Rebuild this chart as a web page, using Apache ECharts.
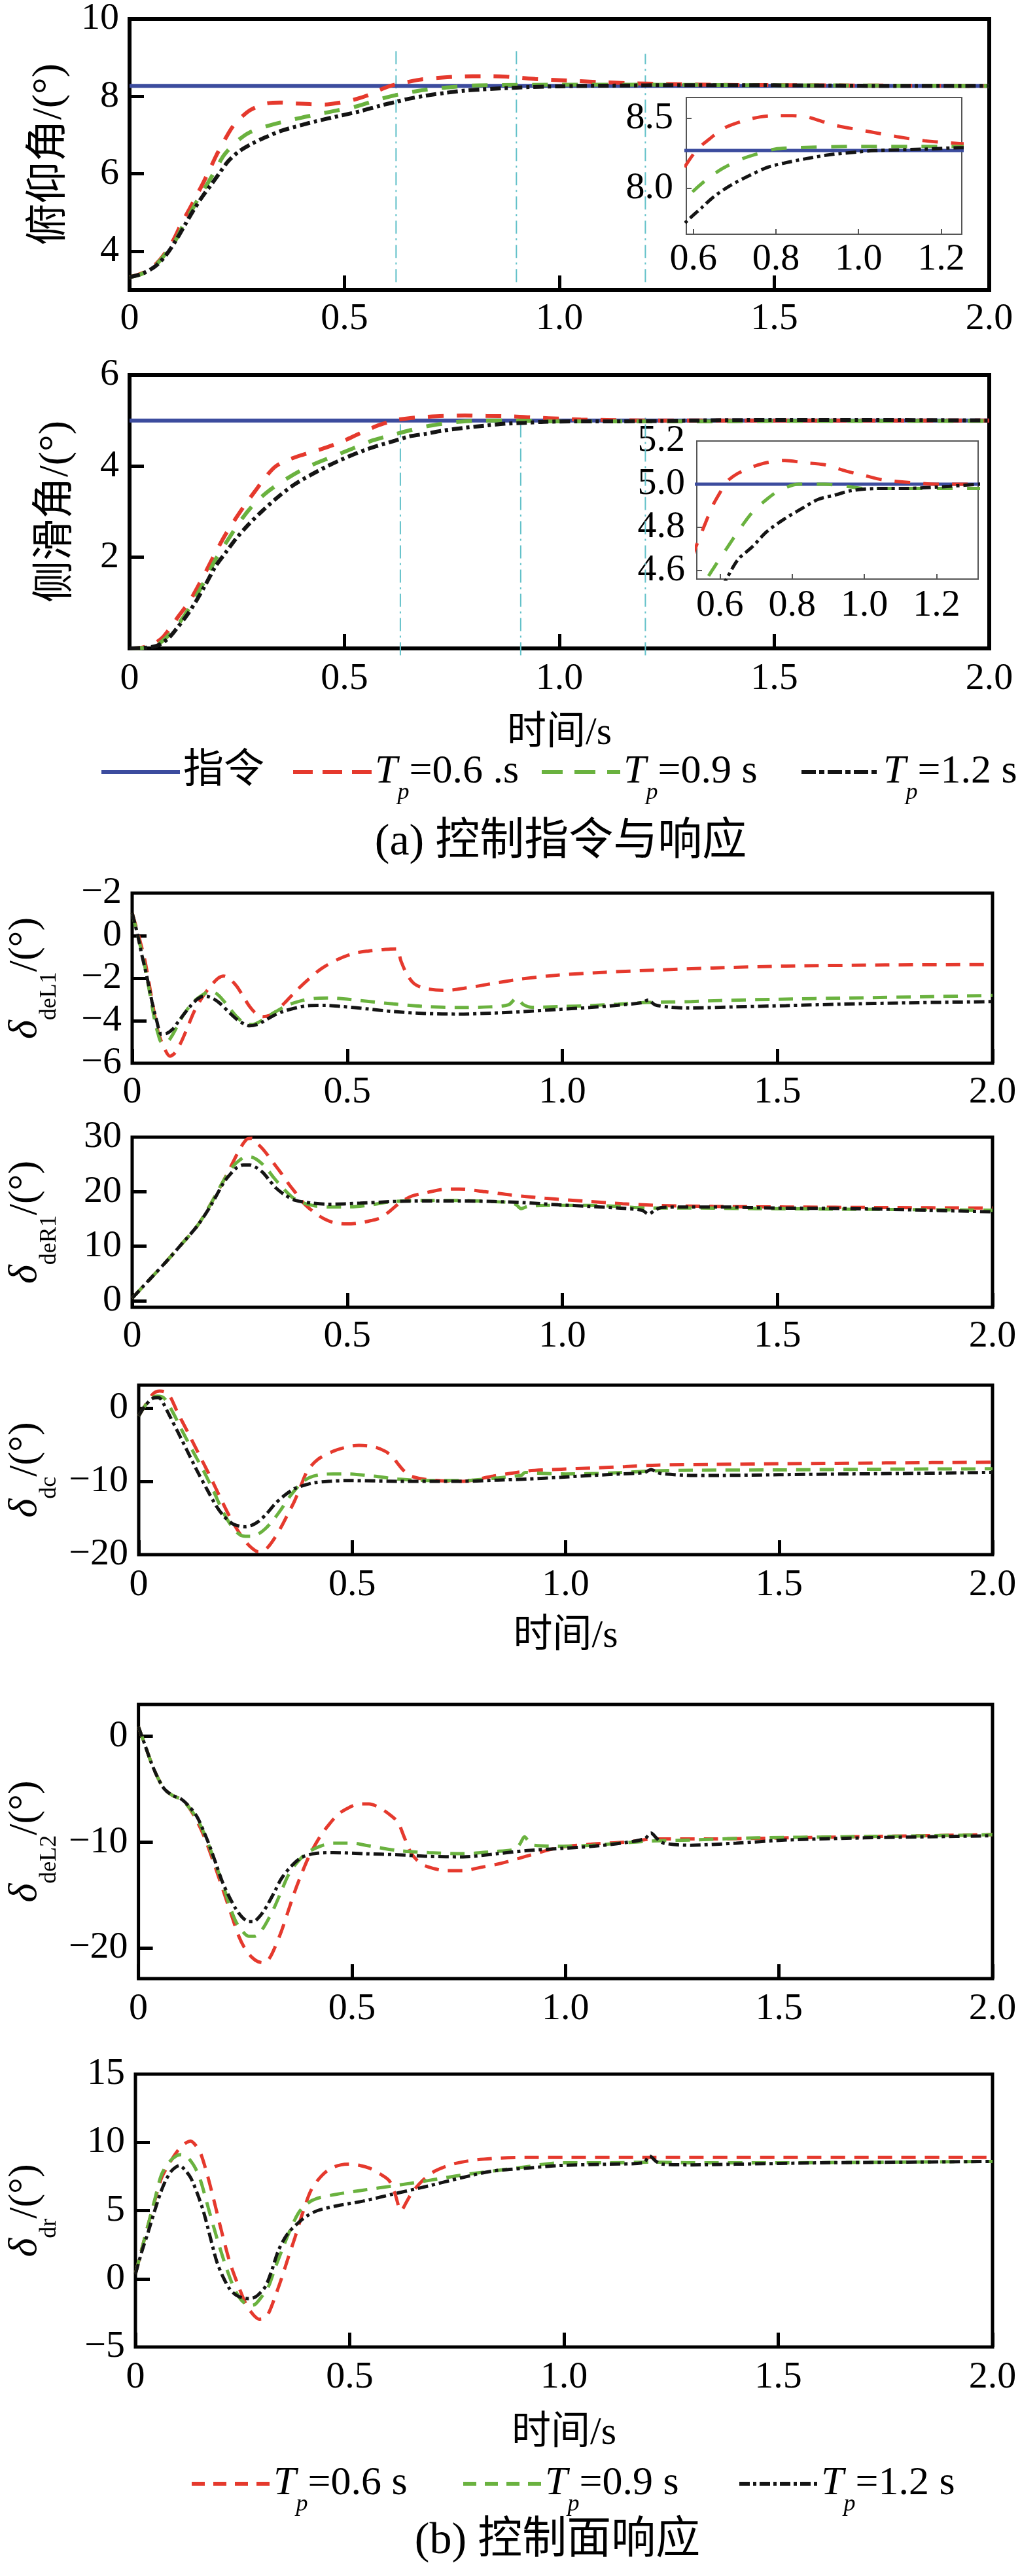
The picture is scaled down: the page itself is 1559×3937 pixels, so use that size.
<!DOCTYPE html>
<html><head><meta charset="utf-8">
<script src="https://cdn.jsdelivr.net/npm/echarts@6/dist/echarts.min.js"></script>
<style>html,body{margin:0;padding:0;background:#fff}#c{width:1559px;height:3937px}</style>
</head><body><div id="c"></div>
<script>
// ---------------- DATA ----------------
const timeTicks = [0, 0.5, 1.0, 1.5, 2.0];

// (a) pitch angle
const pitchCmd = [[0, 8.27], [2, 8.27]];
const pitchTp06 = [[0,3.33],[0.03,3.43],[0.06,3.65],[0.085,3.98],[0.104,4.33],[0.12,4.7],[0.138,5.06],[0.155,5.42],[0.172,5.78],[0.188,6.15],[0.203,6.5],[0.22,6.85],[0.237,7.17],[0.25,7.35],[0.264,7.5],[0.28,7.64],[0.3,7.75],[0.32,7.82],[0.35,7.84],[0.38,7.82],[0.42,7.8],[0.456,7.79],[0.49,7.84],[0.524,7.92],[0.555,8.03],[0.583,8.17],[0.61,8.28],[0.638,8.35],[0.674,8.43],[0.718,8.48],[0.76,8.51],[0.797,8.52],[0.84,8.52],[0.876,8.51],[0.91,8.48],[0.944,8.45],[1.018,8.41],[1.092,8.37],[1.16,8.34],[1.245,8.32],[1.35,8.3],[1.5,8.29],[1.7,8.28],[2.0,8.27]];
const pitchTp09 = [[0,3.33],[0.03,3.42],[0.06,3.63],[0.085,3.95],[0.108,4.3],[0.125,4.68],[0.145,5.06],[0.162,5.4],[0.18,5.72],[0.2,6.1],[0.217,6.44],[0.23,6.62],[0.244,6.78],[0.26,6.93],[0.278,7.06],[0.31,7.2],[0.353,7.33],[0.4,7.45],[0.435,7.53],[0.48,7.63],[0.524,7.73],[0.583,7.93],[0.627,8.05],[0.67,8.14],[0.718,8.21],[0.76,8.25],[0.797,8.28],[0.85,8.29],[1.0,8.3],[1.2,8.3],[1.4,8.29],[1.7,8.28],[2.0,8.27]];
const pitchTp12 = [[0,3.33],[0.03,3.42],[0.06,3.61],[0.085,3.9],[0.108,4.28],[0.13,4.7],[0.149,5.06],[0.17,5.42],[0.19,5.72],[0.21,6.03],[0.23,6.33],[0.255,6.58],[0.285,6.78],[0.32,6.96],[0.353,7.11],[0.4,7.26],[0.435,7.36],[0.49,7.5],[0.538,7.62],[0.583,7.76],[0.62,7.86],[0.65,7.94],[0.69,8.02],[0.735,8.09],[0.78,8.15],[0.82,8.18],[0.87,8.21],[0.93,8.24],[1.0,8.26],[1.04,8.27],[1.16,8.28],[1.245,8.29],[1.4,8.29],[1.6,8.28],[1.8,8.27],[2.0,8.27]];
const pitchGuides = [[0.62, 3.2, 9.25], [0.9, 3.2, 9.22], [1.2, 3.2, 9.1]];
const pitchLabels = [4, 6, 8, 10];
const pitchTicks = [4, 6, 8];
const pitchInsetX = [0.6, 0.8, 1.0, 1.2];
const pitchInsetY = [8.0, 8.5];

// (a) sideslip angle
const betaCmd = [[0, 5.0], [2, 5.0]];
const betaTp06 = [[0,0],[0.03,0.02],[0.06,0.12],[0.078,0.25],[0.094,0.44],[0.115,0.72],[0.14,1.04],[0.17,1.55],[0.2,2.1],[0.222,2.48],[0.247,2.85],[0.27,3.17],[0.292,3.45],[0.315,3.74],[0.338,3.98],[0.365,4.12],[0.4,4.24],[0.445,4.37],[0.49,4.52],[0.536,4.72],[0.56,4.82],[0.58,4.9],[0.6,4.96],[0.618,5.01],[0.65,5.05],[0.69,5.08],[0.73,5.1],[0.78,5.11],[0.83,5.1],[0.89,5.09],[0.95,5.06],[1.0,5.04],[1.05,5.02],[1.11,5.01],[1.2,5.0],[1.4,5.0],[1.7,5.0],[2.0,5.0]];
const betaTp09 = [[0,0],[0.03,0.01],[0.064,0.08],[0.09,0.28],[0.115,0.55],[0.14,0.9],[0.17,1.4],[0.2,1.95],[0.23,2.4],[0.262,2.85],[0.29,3.17],[0.323,3.45],[0.365,3.72],[0.414,3.98],[0.47,4.2],[0.536,4.45],[0.564,4.56],[0.59,4.63],[0.618,4.7],[0.65,4.78],[0.69,4.87],[0.73,4.93],[0.764,4.97],[0.818,5.0],[0.89,5.0],[0.95,4.99],[1.0,4.98],[1.145,4.98],[1.318,4.98],[1.5,4.99],[1.7,4.99],[2.0,4.99]];
const betaTp12 = [[0,0],[0.03,0.01],[0.064,0.06],[0.09,0.22],[0.11,0.44],[0.133,0.72],[0.155,1.04],[0.178,1.42],[0.2,1.8],[0.225,2.12],[0.247,2.4],[0.275,2.7],[0.307,3.0],[0.345,3.32],[0.384,3.6],[0.44,3.9],[0.49,4.13],[0.55,4.36],[0.618,4.56],[0.65,4.65],[0.69,4.71],[0.73,4.78],[0.78,4.84],[0.83,4.89],[0.873,4.93],[0.92,4.95],[0.964,4.97],[1.04,4.98],[1.11,4.98],[1.236,4.99],[1.32,5.0],[1.5,5.01],[1.7,5.01],[2.0,5.0]];
const betaGuides = [[0.63, -0.15, 5.1], [0.91, -0.15, 5.15], [1.2, -0.15, 5.15]];
const betaLabels = [2, 4, 6];
const betaTicks = [2, 4];
const betaInsetX = [0.6, 0.8, 1.0, 1.2];
const betaInsetY = [4.6, 4.8, 5.0, 5.2];

// (b) control surfaces
const deL1Tp06 = [[0,1.07],[0.015,0.0],[0.03,-1.2],[0.045,-2.9],[0.06,-4.5],[0.075,-5.3],[0.088,-5.67],[0.1,-5.5],[0.114,-5.0],[0.13,-4.25],[0.144,-3.57],[0.163,-2.9],[0.182,-2.38],[0.2,-2.0],[0.213,-1.9],[0.228,-2.05],[0.243,-2.38],[0.258,-2.85],[0.273,-3.33],[0.29,-3.7],[0.304,-3.81],[0.32,-3.75],[0.334,-3.57],[0.355,-3.15],[0.38,-2.62],[0.41,-2.05],[0.44,-1.55],[0.48,-1.1],[0.516,-0.83],[0.55,-0.72],[0.577,-0.67],[0.6,-0.63],[0.615,-0.62],[0.625,-1.2],[0.638,-1.79],[0.655,-2.25],[0.68,-2.48],[0.729,-2.57],[0.78,-2.45],[0.835,-2.26],[0.9,-2.05],[0.987,-1.86],[1.1,-1.72],[1.215,-1.62],[1.35,-1.52],[1.52,-1.43],[1.75,-1.38],[2.0,-1.36]];
const deL1Tp09 = [[0,1.07],[0.013,0.0],[0.026,-1.1],[0.04,-2.6],[0.053,-4.05],[0.06,-4.6],[0.068,-5.0],[0.08,-5.0],[0.091,-4.76],[0.105,-4.25],[0.12,-3.7],[0.143,-3.1],[0.167,-2.74],[0.182,-2.62],[0.197,-2.74],[0.212,-3.05],[0.228,-3.45],[0.245,-3.85],[0.266,-4.17],[0.28,-4.18],[0.296,-4.05],[0.315,-3.8],[0.334,-3.57],[0.36,-3.28],[0.395,-3.05],[0.425,-2.95],[0.456,-2.93],[0.53,-3.05],[0.607,-3.21],[0.68,-3.33],[0.76,-3.38],[0.83,-3.35],[0.875,-3.25],[0.893,-2.95],[0.91,-3.25],[0.93,-3.37],[1.0,-3.33],[1.063,-3.29],[1.13,-3.22],[1.2,-3.14],[1.3,-3.1],[1.367,-3.05],[1.5,-2.99],[1.67,-2.93],[1.85,-2.87],[2.0,-2.81]];
const deL1Tp12 = [[0,1.07],[0.012,0.1],[0.023,-0.95],[0.035,-2.0],[0.046,-3.1],[0.057,-4.0],[0.068,-4.64],[0.08,-4.6],[0.094,-4.4],[0.107,-4.05],[0.12,-3.7],[0.136,-3.3],[0.152,-2.98],[0.165,-2.85],[0.175,-2.86],[0.19,-2.98],[0.205,-3.2],[0.225,-3.6],[0.243,-3.93],[0.26,-4.15],[0.273,-4.24],[0.29,-4.18],[0.304,-4.05],[0.325,-3.8],[0.35,-3.57],[0.38,-3.4],[0.41,-3.29],[0.45,-3.28],[0.486,-3.33],[0.55,-3.45],[0.607,-3.57],[0.68,-3.66],[0.76,-3.69],[0.84,-3.64],[0.911,-3.57],[0.99,-3.47],[1.063,-3.38],[1.13,-3.27],[1.185,-3.15],[1.2,-3.02],[1.215,-3.25],[1.25,-3.36],[1.29,-3.4],[1.4,-3.35],[1.52,-3.29],[1.65,-3.22],[1.8,-3.16],[2.0,-3.1]];
const deL1Labels = [-6, -4, -2, 0, 2];
const deL1Ticks = [-4, -2, 0];

const deR1Tp06 = [[0,0.46],[0.038,3.7],[0.076,6.9],[0.114,10.3],[0.152,13.8],[0.183,17.8],[0.213,22.1],[0.235,25.5],[0.25,27.8],[0.266,29.6],[0.278,29.8],[0.289,29.0],[0.304,27.8],[0.319,26.3],[0.335,24.6],[0.35,23.0],[0.365,21.3],[0.38,19.8],[0.4,17.8],[0.425,16.1],[0.447,15.0],[0.47,14.3],[0.5,14.1],[0.53,14.3],[0.555,14.7],[0.577,15.2],[0.6,16.5],[0.623,18.0],[0.65,19.2],[0.683,19.8],[0.72,20.4],[0.76,20.5],[0.82,20.0],[0.88,19.4],[0.96,18.8],[1.063,18.2],[1.14,17.8],[1.215,17.5],[1.35,17.3],[1.52,17.2],[1.75,17.1],[2.0,17.0]];
const deR1Tp09 = [[0,0.46],[0.038,3.7],[0.076,6.9],[0.114,10.3],[0.152,13.8],[0.183,17.8],[0.213,22.1],[0.235,24.7],[0.25,25.8],[0.265,26.4],[0.28,26.3],[0.295,25.6],[0.311,24.4],[0.33,22.5],[0.35,20.7],[0.372,19.0],[0.395,18.0],[0.425,17.4],[0.456,17.2],[0.5,17.2],[0.547,17.5],[0.607,18.2],[0.68,18.4],[0.76,18.4],[0.83,18.2],[0.88,18.0],[0.893,17.6],[0.904,16.9],[0.92,17.3],[0.96,17.5],[1.063,17.5],[1.13,17.3],[1.2,17.0],[1.3,17.0],[1.45,16.9],[1.65,16.8],[1.85,16.7],[2.0,16.6]];
const deR1Tp12 = [[0,0.46],[0.038,3.7],[0.076,6.9],[0.114,10.3],[0.152,13.8],[0.183,17.5],[0.213,21.7],[0.228,23.2],[0.243,24.4],[0.258,24.9],[0.273,24.9],[0.289,24.4],[0.304,23.5],[0.319,22.1],[0.334,20.7],[0.357,19.3],[0.38,18.4],[0.42,17.9],[0.456,17.7],[0.53,17.9],[0.607,18.2],[0.68,18.3],[0.76,18.3],[0.84,18.2],[0.911,18.0],[0.99,17.6],[1.063,17.3],[1.13,17.0],[1.185,16.6],[1.2,15.9],[1.215,16.6],[1.23,17.1],[1.3,17.2],[1.367,17.2],[1.5,17.0],[1.67,16.9],[1.85,16.6],[2.0,16.3]];
const deR1Labels = [0, 10, 20, 30];
const deR1Ticks = [0, 10, 20];

const dcTp06 = [[0,-1.1],[0.02,0.8],[0.035,2.0],[0.049,2.3],[0.06,2.2],[0.073,1.6],[0.09,-0.5],[0.114,-3.2],[0.14,-6.2],[0.167,-9.3],[0.19,-12.1],[0.213,-14.8],[0.232,-16.7],[0.25,-18.2],[0.265,-19.1],[0.28,-19.6],[0.292,-19.5],[0.304,-18.9],[0.32,-17.6],[0.334,-16.2],[0.35,-14.4],[0.365,-12.7],[0.38,-10.6],[0.395,-8.6],[0.42,-7.0],[0.456,-5.9],[0.49,-5.3],[0.516,-5.1],[0.55,-5.3],[0.577,-5.9],[0.595,-6.7],[0.607,-7.6],[0.62,-8.5],[0.638,-9.3],[0.68,-9.8],[0.76,-10.0],[0.83,-9.3],[0.911,-8.6],[0.99,-8.35],[1.063,-8.2],[1.14,-8.0],[1.215,-7.8],[1.35,-7.7],[1.52,-7.6],[1.75,-7.5],[2.0,-7.4]];
const dcTp09 = [[0,-1.1],[0.015,0.3],[0.028,1.3],[0.043,1.6],[0.06,1.3],[0.08,-0.6],[0.099,-2.8],[0.125,-5.7],[0.152,-8.6],[0.175,-11.3],[0.197,-14.1],[0.215,-15.9],[0.235,-17.2],[0.25,-17.5],[0.266,-17.5],[0.28,-17.2],[0.296,-16.5],[0.315,-15.3],[0.334,-13.8],[0.355,-12.0],[0.38,-10.3],[0.4,-9.5],[0.425,-9.1],[0.456,-9.0],[0.486,-9.0],[0.55,-9.3],[0.607,-9.7],[0.68,-9.9],[0.76,-9.9],[0.83,-9.6],[0.88,-9.3],[0.896,-9.2],[0.905,-8.8],[0.93,-8.9],[1.0,-9.0],[1.1,-8.9],[1.2,-8.6],[1.3,-8.5],[1.5,-8.45],[1.75,-8.35],[2.0,-8.3]];
const dcTp12 = [[0,-1.1],[0.015,0.3],[0.033,1.3],[0.045,1.4],[0.053,1.1],[0.07,-0.8],[0.091,-3.2],[0.114,-5.9],[0.137,-8.6],[0.16,-11.1],[0.182,-13.4],[0.2,-14.8],[0.22,-15.8],[0.235,-16.1],[0.25,-16.2],[0.265,-16.0],[0.28,-15.5],[0.3,-14.4],[0.319,-13.1],[0.34,-12.0],[0.365,-11.0],[0.39,-10.5],[0.41,-10.2],[0.45,-10.0],[0.486,-9.9],[0.55,-9.95],[0.607,-10.0],[0.68,-10.0],[0.76,-10.0],[0.84,-9.85],[0.911,-9.7],[0.99,-9.45],[1.063,-9.2],[1.13,-9.0],[1.185,-8.8],[1.2,-8.4],[1.215,-8.8],[1.23,-9.0],[1.3,-9.2],[1.367,-9.2],[1.5,-9.1],[1.67,-9.0],[1.85,-8.9],[2.0,-8.8]];
const dcLabels = [-20, -10, 0];
const dcTicks = [-10, 0];

const deL2Tp06 = [[0,0.9],[0.015,-0.8],[0.03,-2.5],[0.045,-3.9],[0.061,-5.0],[0.08,-5.6],[0.106,-6.1],[0.13,-7.5],[0.152,-9.3],[0.175,-11.8],[0.197,-14.4],[0.217,-16.8],[0.235,-18.9],[0.25,-20.1],[0.266,-20.9],[0.28,-21.3],[0.296,-21.4],[0.308,-20.9],[0.319,-20.0],[0.335,-18.4],[0.35,-16.6],[0.365,-14.8],[0.38,-13.2],[0.4,-11.3],[0.425,-9.5],[0.447,-8.3],[0.47,-7.3],[0.495,-6.7],[0.516,-6.4],[0.54,-6.4],[0.562,-6.7],[0.585,-7.3],[0.607,-8.1],[0.622,-9.5],[0.638,-11.0],[0.66,-12.0],[0.683,-12.4],[0.72,-12.7],[0.76,-12.7],[0.8,-12.4],[0.85,-12.0],[0.92,-11.2],[0.987,-10.5],[1.06,-10.2],[1.14,-10.0],[1.215,-9.7],[1.35,-9.7],[1.52,-9.6],[1.75,-9.45],[2.0,-9.3]];
const deL2Tp09 = [[0,0.9],[0.015,-0.8],[0.03,-2.5],[0.045,-3.9],[0.061,-5.0],[0.08,-5.6],[0.101,-6.0],[0.12,-6.8],[0.14,-8.0],[0.16,-9.8],[0.18,-12.0],[0.2,-14.3],[0.215,-16.2],[0.228,-17.5],[0.243,-18.4],[0.258,-18.9],[0.272,-18.9],[0.289,-18.3],[0.304,-17.3],[0.319,-16.1],[0.335,-14.6],[0.35,-13.2],[0.37,-12.0],[0.395,-11.0],[0.425,-10.4],[0.456,-10.1],[0.5,-10.1],[0.532,-10.3],[0.607,-10.8],[0.68,-11.0],[0.76,-11.1],[0.83,-10.9],[0.88,-10.7],[0.893,-10.2],[0.904,-9.5],[0.915,-10.0],[0.926,-10.3],[1.0,-10.4],[1.063,-10.3],[1.13,-10.1],[1.2,-9.9],[1.3,-9.8],[1.45,-9.6],[1.65,-9.5],[1.85,-9.4],[2.0,-9.3]];
const deL2Tp12 = [[0,0.9],[0.015,-0.8],[0.03,-2.5],[0.045,-3.9],[0.061,-5.0],[0.08,-5.6],[0.099,-5.9],[0.118,-6.6],[0.137,-7.6],[0.152,-8.9],[0.167,-10.4],[0.182,-12.1],[0.197,-13.8],[0.213,-15.2],[0.228,-16.3],[0.243,-17.1],[0.258,-17.5],[0.27,-17.5],[0.28,-17.2],[0.292,-16.6],[0.304,-15.8],[0.32,-14.6],[0.334,-13.5],[0.355,-12.4],[0.38,-11.5],[0.41,-11.1],[0.456,-11.0],[0.53,-11.1],[0.607,-11.2],[0.68,-11.35],[0.76,-11.4],[0.84,-11.1],[0.911,-10.8],[0.99,-10.6],[1.063,-10.4],[1.13,-10.1],[1.185,-9.7],[1.2,-9.15],[1.215,-9.7],[1.23,-10.1],[1.29,-10.3],[1.4,-10.1],[1.52,-9.8],[1.7,-9.6],[1.85,-9.5],[2.0,-9.4]];
const deL2Labels = [-20, -10, 0];
const deL2Ticks = [-20, -10, 0];

const drTp06 = [[0,0.35],[0.015,2.2],[0.03,4.0],[0.045,5.7],[0.061,7.4],[0.08,8.5],[0.099,9.4],[0.115,9.9],[0.129,10.1],[0.14,9.8],[0.152,9.2],[0.167,7.7],[0.182,5.9],[0.2,3.6],[0.22,1.24],[0.24,-0.5],[0.258,-1.86],[0.274,-2.6],[0.289,-2.96],[0.3,-2.9],[0.311,-2.5],[0.326,-1.3],[0.342,0.13],[0.357,1.6],[0.372,3.0],[0.39,4.8],[0.41,6.5],[0.433,7.5],[0.456,8.1],[0.48,8.35],[0.501,8.4],[0.525,8.3],[0.547,8.1],[0.57,7.7],[0.592,7.2],[0.605,6.3],[0.62,5.0],[0.632,5.6],[0.645,6.3],[0.67,7.2],[0.699,7.9],[0.74,8.4],[0.79,8.7],[0.85,8.85],[0.911,8.9],[1.0,8.9],[1.2,8.9],[1.5,8.9],[1.75,8.9],[2.0,8.9]];
const drTp09 = [[0,0.35],[0.015,2.2],[0.03,4.0],[0.045,5.8],[0.061,7.65],[0.08,8.6],[0.095,9.0],[0.106,9.1],[0.118,9.0],[0.13,8.6],[0.14,8.1],[0.152,7.2],[0.17,5.2],[0.19,3.0],[0.21,1.0],[0.228,-0.53],[0.243,-1.4],[0.258,-1.86],[0.27,-1.95],[0.28,-1.86],[0.295,-1.3],[0.311,-0.53],[0.326,0.8],[0.342,2.1],[0.36,3.5],[0.38,4.8],[0.4,5.5],[0.425,5.9],[0.47,6.2],[0.532,6.5],[0.6,6.8],[0.683,7.2],[0.76,7.6],[0.835,7.9],[0.91,8.2],[0.99,8.5],[1.1,8.5],[1.2,8.55],[1.3,8.5],[1.5,8.5],[1.75,8.55],[2.0,8.6]];
const drTp12 = [[0,0.35],[0.015,2.0],[0.03,3.45],[0.045,5.0],[0.061,6.5],[0.072,7.3],[0.084,7.9],[0.095,8.2],[0.103,8.3],[0.115,8.0],[0.129,7.4],[0.145,6.2],[0.16,4.8],[0.175,3.0],[0.19,1.24],[0.205,0.1],[0.22,-0.75],[0.235,-1.2],[0.25,-1.4],[0.265,-1.45],[0.28,-1.33],[0.292,-1.0],[0.304,-0.53],[0.318,0.6],[0.334,2.1],[0.355,3.3],[0.38,4.1],[0.4,4.6],[0.425,5.0],[0.47,5.35],[0.532,5.7],[0.6,6.2],[0.683,6.8],[0.76,7.4],[0.835,7.9],[0.91,8.1],[0.987,8.3],[1.1,8.4],[1.185,8.5],[1.2,9.0],[1.215,8.6],[1.23,8.4],[1.3,8.35],[1.4,8.4],[1.6,8.5],[1.8,8.55],[2.0,8.6]];
const drLabels = [-5, 0, 5, 10, 15];
const drTicks = [0, 5, 10];

// ---------------- STYLE ----------------
const SERIF = 'Liberation Serif, Times New Roman, Noto Sans CJK SC, serif';
const SERIF_L = 'Liberation Serif, Times New Roman, serif';
const COL = { cmd: '#3c4c9e', r: '#e5392d', g: '#6ab23f', k: '#141414', v: '#62c1c9', inset: '#555555' };
const DASH_A = { r: [24, 20], g: [24, 22], k: [16, 6, 5, 6] };
const DASH_B = { r: [22, 14], g: [22, 14], k: [16, 6, 5, 6] };

const gridRects = [
  { left: 198, top: 20, width: 1314, height: 423, bw: 6 },
  { left: 198, top: 573, width: 1314, height: 418, bw: 6 },
  { left: 200, top: 1365, width: 1317, height: 260, bw: 5 },
  { left: 200, top: 1738, width: 1317, height: 260, bw: 5 },
  { left: 200, top: 2117, width: 1317, height: 259, bw: 5 },
  { left: 199, top: 2605, width: 1318, height: 419, bw: 5 },
  { left: 199, top: 3170, width: 1318, height: 417, bw: 5 },
  { left: 1049, top: 149, width: 421, height: 209, bw: 2, inset: true },
  { left: 1065, top: 674, width: 430, height: 211, bw: 2, inset: true }
];

function num(v) {
  const s = Number.isInteger(v) ? String(Math.abs(v)) : Math.abs(v).toFixed(1);
  return (v < 0 ? '\u2212' : '') + s;
}

const deltaRich = {
  d: { fontSize: 62, fontStyle: 'italic', fontFamily: SERIF_L, lineHeight: 110, color: '#000' },
  s: { fontSize: 36, fontFamily: SERIF_L, lineHeight: 36, verticalAlign: 'bottom', color: '#000' },
  m: { fontSize: 62, fontFamily: SERIF_L, lineHeight: 110, color: '#000' }
};

const mainY = [
  { min: 3, max: 10, labels: pitchLabels, ticks: pitchTicks, name: '俯仰角/(°)', gap: 90 },
  { min: 0, max: 6, labels: betaLabels, ticks: betaTicks, name: '侧滑角/(°)', gap: 80 },
  { min: -6, max: 2, labels: deL1Labels, ticks: deL1Ticks, name: '{d|δ}{s|deL1}{m|/(°)}', gap: 108, rich: true, fmt: v => (v === 2 ? '\u22122' : num(v)) },
  { min: -1.2, max: 30, labels: deR1Labels, ticks: deR1Ticks, name: '{d|δ}{s|deR1}{m|/(°)}', gap: 108, rich: true },
  { min: -20, max: 3.1, labels: dcLabels, ticks: dcTicks, name: '{d|δ}{s|dc}{m|/(°)}', gap: 118, rich: true },
  { min: -22.9, max: 3, labels: deL2Labels, ticks: deL2Ticks, name: '{d|δ}{s|deL2}{m|/(°)}', gap: 116, rich: true },
  { min: -5, max: 15, labels: drLabels, ticks: drTicks, name: '{d|δ}{s|dr}{m|/(°)}', gap: 113, rich: true }
];
const xNames = { 1: 100, 4: 95, 6: 102 };
const xMargins = [16, 18, 16, 16, 18, 18, 18];

const grid = gridRects.map(g => ({
  left: g.left, top: g.top, width: g.width, height: g.height,
  show: true, borderColor: g.inset ? COL.inset : '#000', borderWidth: g.bw,
  backgroundColor: g.inset ? '#ffffff' : 'transparent', containLabel: false
}));

const xAxis = [];
const yAxis = [];
for (let i = 0; i < 7; i++) {
  xAxis.push({
    gridIndex: i, type: 'value', min: 0, max: 2, interval: 0.5, position: 'bottom',
    axisLine: { show: false, onZero: false }, splitLine: { show: false },
    axisTick: { inside: true, length: 22, lineStyle: { width: 5, color: '#000' } },
    axisLabel: { color: '#000', fontSize: 58, fontFamily: SERIF, margin: xMargins[i],
      formatter: v => (v === 0 ? '0' : v.toFixed(1)) },
    name: xNames[i] != null ? '时间/s' : '', nameLocation: 'middle', nameGap: xNames[i] || 0,
    nameTextStyle: { color: '#000', fontSize: 60, fontFamily: SERIF }
  });
  const y = mainY[i];
  yAxis.push({
    gridIndex: i, type: 'value', min: y.min, max: y.max, position: 'left',
    axisLine: { show: false, onZero: false }, splitLine: { show: false },
    axisTick: { inside: true, length: 22, lineStyle: { width: 5, color: '#000' }, customValues: y.ticks },
    axisLabel: { color: '#000', fontSize: 58, fontFamily: SERIF, margin: 16, customValues: y.labels,
      formatter: y.fmt || num },
    name: y.name, nameLocation: 'middle', nameRotate: 90, nameGap: y.gap,
    nameTextStyle: y.rich ? { rich: deltaRich } : { color: '#000', fontSize: 64, fontFamily: SERIF }
  });
}
// insets
const insets = [
  { g: 7, xmin: 0.583, xmax: 1.25, ymin: 7.67, ymax: 8.65, xl: pitchInsetX, yl: pitchInsetY, xm: 10, ym: 20 },
  { g: 8, xmin: 0.536, xmax: 1.315, ymin: 4.56, ymax: 5.2, xl: betaInsetX, yl: betaInsetY, xm: 12, ym: 18 }
];
insets.forEach(s => {
  xAxis.push({
    gridIndex: s.g, type: 'value', min: s.xmin, max: s.xmax, position: 'bottom',
    axisLine: { show: false, onZero: false }, splitLine: { show: false },
    axisTick: { inside: true, length: 8, lineStyle: { width: 2, color: COL.inset }, customValues: s.xl },
    axisLabel: { color: '#000', fontSize: 58, fontFamily: SERIF, margin: s.xm, customValues: s.xl,
      formatter: v => v.toFixed(1) }
  });
  yAxis.push({
    gridIndex: s.g, type: 'value', min: s.ymin, max: s.ymax, position: 'left',
    axisLine: { show: false, onZero: false }, splitLine: { show: false },
    axisTick: { inside: true, length: 8, lineStyle: { width: 2, color: COL.inset }, customValues: s.yl },
    axisLabel: { color: '#000', fontSize: 58, fontFamily: SERIF, margin: s.ym, customValues: s.yl,
      formatter: v => v.toFixed(1) }
  });
});

const series = [];
function guides(axisIdx, list) {
  list.forEach(([t, y0, y1]) => series.push({
    type: 'line', xAxisIndex: axisIdx, yAxisIndex: axisIdx, data: [[t, y0], [t, y1]],
    symbol: 'none', showSymbol: false, clip: false, silent: true, z: 1,
    lineStyle: { color: COL.v, width: 2, type: [20, 7, 3, 7] }
  }));
}
function curve(axisIdx, name, data, color, width, dash, z) {
  series.push({
    type: 'line', name, xAxisIndex: axisIdx, yAxisIndex: axisIdx, data,
    symbol: 'none', showSymbol: false, smooth: 0.3, z: z,
    itemStyle: { color },
    lineStyle: { color, width, type: dash, cap: 'butt' }
  });
}
guides(0, pitchGuides);
guides(1, betaGuides);
const groupA = [
  [0, pitchCmd, pitchTp06, pitchTp09, pitchTp12],
  [1, betaCmd, betaTp06, betaTp09, betaTp12],
  [7, pitchCmd, pitchTp06, pitchTp09, pitchTp12],
  [8, betaCmd, betaTp06, betaTp09, betaTp12]
];
groupA.forEach(([ax, c, r, g, k]) => {
  const w = ax >= 7 ? 5 : 6;
  curve(ax, 'cmd', c, COL.cmd, w, 'solid', 2);
  curve(ax, 'tp06', r, COL.r, w, DASH_A.r, 3);
  curve(ax, 'tp09', g, COL.g, w, DASH_A.g, 4);
  curve(ax, 'tp12', k, COL.k, w, DASH_A.k, 5);
});
const groupB = [
  [2, deL1Tp06, deL1Tp09, deL1Tp12],
  [3, deR1Tp06, deR1Tp09, deR1Tp12],
  [4, dcTp06, dcTp09, dcTp12],
  [5, deL2Tp06, deL2Tp09, deL2Tp12],
  [6, drTp06, drTp09, drTp12]
];
groupB.forEach(([ax, r, g, k]) => {
  curve(ax, 'tp06', r, COL.r, 5, DASH_B.r, 3);
  curve(ax, 'tp09', g, COL.g, 5, DASH_B.g, 4);
  curve(ax, 'tp12', k, COL.k, 5, DASH_B.k, 5);
});

const legRich = {
  m: { fontSize: 62, fontFamily: SERIF, lineHeight: 100, color: '#000' },
  i: { fontSize: 62, fontStyle: 'italic', fontFamily: SERIF_L, lineHeight: 100, color: '#000' },
  s: { fontSize: 36, fontStyle: 'italic', fontFamily: SERIF_L, lineHeight: 36, verticalAlign: 'bottom', color: '#000' }
};
const legendDefs = [
  { name: 'cmd', left: 152, cy: 1173, text: '{m|指令}', color: COL.cmd, type: 'solid' },
  { name: 'tp06', left: 445, cy: 1173, text: '{i|T}{s|p}{m|=0.6 .s}', color: COL.r, type: [30, 15] },
  { name: 'tp09', left: 825, cy: 1173, text: '{i|T}{s|p}{m|=0.9 s}', color: COL.g, type: [32, 18] },
  { name: 'tp12', left: 1222, cy: 1173, text: '{i|T}{s|p}{m|=1.2 s}', color: COL.k, type: [22, 5, 8, 5] },
  { name: 'tp06', left: 290, cy: 3789, text: '{i|T}{s|p}{m|=0.6 s}', color: COL.r, type: [20, 13] },
  { name: 'tp09', left: 705, cy: 3789, text: '{i|T}{s|p}{m|=0.9 s}', color: COL.g, type: [20, 13] },
  { name: 'tp12', left: 1127, cy: 3789, text: '{i|T}{s|p}{m|=1.2 s}', color: COL.k, type: [16, 5, 5, 5] }
];
const legend = legendDefs.map(d => ({
  data: [d.name], left: d.left, top: d.cy - 24, padding: 0, itemWidth: 120, itemHeight: 2,
  selectedMode: false, formatter: () => d.text,
  textStyle: { rich: legRich },
  itemStyle: { opacity: 0, borderWidth: 0, color: 'rgba(0,0,0,0)', borderColor: 'rgba(0,0,0,0)' },
  lineStyle: { width: 6, color: d.color, type: d.type, cap: 'butt', opacity: 1 }
}));

const graphic = [
  { type: 'text', x: 857, y: 1288, style: { text: '(a) 控制指令与响应', fontSize: 68, fontFamily: SERIF, fill: '#000', align: 'center', verticalAlign: 'middle' } },
  { type: 'text', x: 852, y: 3884, style: { text: '(b) 控制面响应', fontSize: 68, fontFamily: SERIF, fill: '#000', align: 'center', verticalAlign: 'middle' } }
];

const chart = echarts.init(document.getElementById('c'), null, { renderer: 'canvas' });
chart.setOption({ animation: false, backgroundColor: '#fff', grid, xAxis, yAxis, series, legend, graphic });
</script>
</body></html>
